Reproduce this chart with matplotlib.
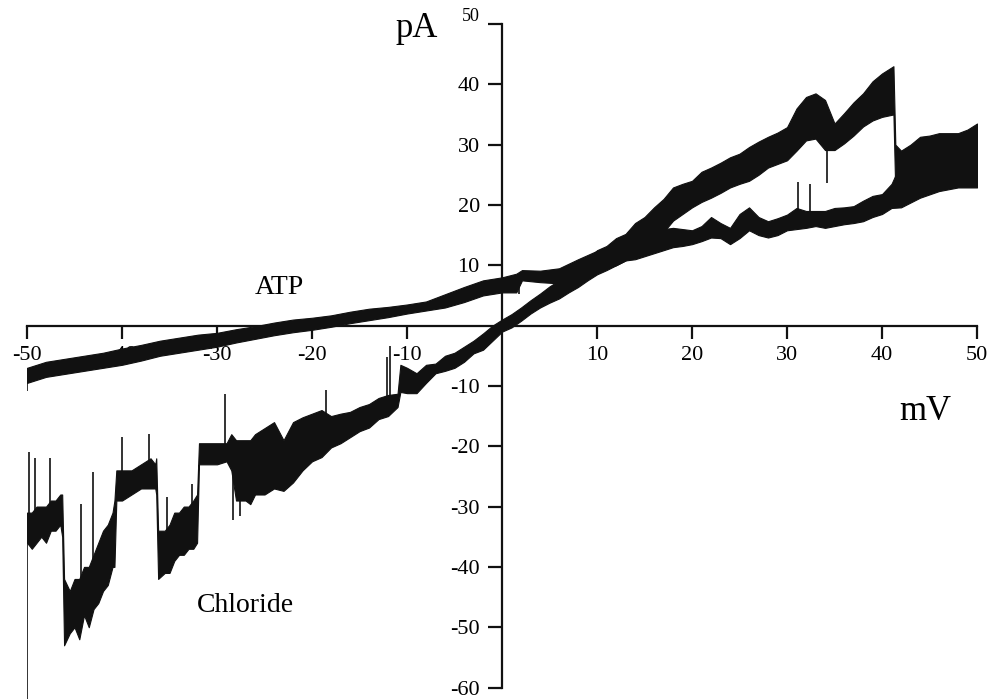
import matplotlib
matplotlib.use("Agg")
import matplotlib.pyplot as plt
import matplotlib.transforms as mtransforms

plt.rcParams['font.family'] = ['Liberation Serif', 'DejaVu Serif']

# chloride trace, read as (mV, lower edge, upper edge) of the noisy band
cl_mv = [-50, -49.5, -49, -48.5, -48, -47.5, -47, -46.5, -46.3, -46.1, -45.5, -45, -44.5, -44,
         -43.5, -43, -42.5, -42, -41.5, -41, -40.8, -40.6, -40, -39, -38, -37, -36.5, -36.4,
         -36.2, -35.5, -35, -34.5, -34, -33.5, -33, -32.5, -32.1, -31.9, -31, -30, -29, -28.5,
         -28, -27, -26.5, -26, -25, -24, -23, -22, -21, -20, -19, -18, -17, -16, -15, -14, -13,
         -12, -11, -10.7, -10, -9, -8, -7, -6, -5, -4, -3, -2, -1, 0, 1, 2, 3, 4, 5, 6, 7, 8, 9,
         10, 11, 12, 13, 14, 15, 16, 17, 18, 19, 20, 21, 22, 23, 24, 25, 26, 27, 28, 29, 30, 31,
         32, 33, 34, 35, 36, 37, 38, 39, 40, 41.2, 41.4, 42, 43, 44, 45, 46, 47, 48, 49, 50]
cl_lo = [-36, -37, -36, -35, -36, -34, -34, -33, -35, -53, -51, -50, -52, -48,
         -50, -47, -46, -44, -43, -40, -40, -29, -29, -28, -27, -27, -27, -28,
         -42, -41, -41, -39, -38, -38, -37, -37, -36, -23, -23, -23, -22.5, -24,
         -29, -29, -29.6, -28, -28, -27, -27.4, -26, -24, -22.5, -21.8, -20.2, -19.5, -18.5, -17.5, -16.9, -15.5,
         -15, -13.5, -11, -11.2, -11.2, -9.5, -7.9, -7.5, -7, -6, -4.6, -4, -2.5, -1, -0.3, 0.8, 2, 3, 3.8, 4.5, 5.5, 6.4, 7.5,
         8.5, 9.2, 10, 10.8, 11.8, 13, 14.1, 15.5, 17.4, 18.5, 19.6, 20.5, 21.2, 22, 22.9, 23.5, 24, 25, 26.2, 26.8, 27.4, 29,
         30.7, 31, 29.1, 29.1, 30.2, 31.5, 33, 34, 34.6, 35, 22, 22, 22.5, 23, 23.5, 23.5, 24, 24, 24.5, 25]
cl_hi = [-31, -31, -30, -30, -30, -29, -29, -28, -28, -42, -44, -42, -42, -40,
         -40, -38, -36, -34, -33, -31, -29, -24, -24, -24, -23, -22, -23, -22,
         -34, -34, -33, -31, -31, -30, -30, -29, -28, -19.5, -19.5, -19.5, -19.5, -18,
         -19, -19, -19, -18, -17, -16, -19, -16, -15.2, -14.6, -14, -15, -14.6, -14.3, -13.5, -13, -12,
         -11.5, -11.3, -6.5, -7, -7.9, -6.5, -6.3, -5, -4.5, -3.5, -2.5, -1.3, 0, 1, 1.9, 3, 4.2, 5.3, 6.5, 7.5, 8.6, 9.7, 11,
         12.5, 13.2, 14.5, 15.2, 17, 18, 19.6, 21, 22.9, 23.5, 24, 25.5, 26.2, 27, 27.9, 28.5, 29.6, 30.5, 31.3, 32, 32.9, 36,
         37.9, 38.5, 37.4, 33.5, 35.2, 37, 38.5, 40.5, 41.8, 43, 30, 29, 30, 31.3, 31.5, 31.9, 31.9, 31.9, 32.5, 33.5]

# ATP trace
atp_mv = [-50, -49, -48, -46, -44, -42, -40, -38, -36, -34, -32, -30, -28, -26, -24, -22, -20,
          -18, -16, -14, -12, -10, -8, -6, -4, -2, 0, 1.5, 2.1, 4, 6, 8, 10, 11, 12, 13, 14, 15,
          16, 17, 18, 19, 20, 21, 22, 23, 24, 25, 26, 27, 28, 29, 30, 31, 32, 33, 34, 35, 36, 37,
          38, 39, 40, 41, 42, 44, 46, 48, 50]
atp_lo = [-9.5, -9, -8.5, -8, -7.5, -7, -6.5, -5.8, -5, -4.5, -4, -3.5, -2.8, -2.2, -1.6, -1.1, -0.7,
          -0.2, 0.4, 0.9, 1.4, 2, 2.5, 3, 3.9, 5, 5.5, 5.5, 7.5, 7.2, 7, 8.5, 9.1, 9.5, 10, 10.8, 11, 11.5,
          12, 12.5, 13, 13.2, 13.5, 14, 14.6, 14.5, 13.5, 14.5, 15.8, 15, 14.6, 15, 15.8, 16, 16.2, 16.5, 16.2, 16.5, 16.8, 17,
          17.3, 18, 18.5, 19.5, 19.6, 21.2, 22.3, 22.9, 22.9]
atp_hi = [-7, -6.5, -6, -5.5, -5, -4.5, -3.8, -3.2, -2.5, -2, -1.5, -1.2, -0.6, -0.1, 0.5, 1, 1.3,
          1.7, 2.3, 2.8, 3.1, 3.5, 4, 5.2, 6.4, 7.5, 8, 8.6, 9.2, 9.1, 9.5, 11, 12.4, 12.8, 13.5, 14.5, 15, 15.2,
          15.5, 16, 16.2, 16, 15.8, 16.5, 18, 17, 16.2, 18.5, 19.6, 18, 17.3, 17.8, 18.4, 19.5, 19, 19, 19, 19.5, 19.6, 19.8,
          20.7, 21.5, 21.8, 23.5, 27, 28, 29, 29, 30]

# single spikes sticking out of the bands
cl_spike_mv = [-50, -49.8, -49.2, -47.6, -44.3, -43.1, -40, -37.2, -35.3, -32.6, -29.2, -28.3,
               -27.6, -18.5, -12.1, -11.8, 34.2]
cl_spike_lo = [-62, -36, -35, -33, -50, -46, -27, -26, -40, -36, -21, -32.3,
               -31.5, -19, -13, -12, 23.7]
cl_spike_hi = [-33, -21, -22, -22, -29.6, -24.2, -18.5, -17.9, -28.4, -26.2, -11.3, -22,
               -21, -10.7, -5.2, -3.3, 30]
atp_spike_mv = [-50, 1.8, 31.2, 32.4]
atp_spike_lo = [-10.8, 5.3, 17, 17]
atp_spike_hi = [-7.5, 7, 23.8, 23.5]

xticks = [-50, -40, -30, -20, -10, 10, 20, 30, 40, 50]
yticks = [-60, -50, -40, -30, -20, -10, 10, 20, 30, 40, 50]

ink = '#111111'

fig = plt.figure(figsize=(9.9, 6.99), dpi=100)
ax = fig.add_axes([0.0273, 0.0, 0.9596, 0.9657])
ax.set_xlim(-50, 50)
ax.set_ylim(-61.9, 50)

ax.fill_between(cl_mv, cl_lo, cl_hi, color=ink, lw=0.8, zorder=3)
ax.fill_between(atp_mv, atp_lo, atp_hi, color=ink, lw=0.8, zorder=3)
ax.vlines(cl_spike_mv, cl_spike_lo, cl_spike_hi, color=ink, lw=1.2, zorder=3)
ax.vlines(atp_spike_mv, atp_spike_lo, atp_spike_hi, color=ink, lw=1.2, zorder=3)

for s in ['top', 'right']:
    ax.spines[s].set_visible(False)
ax.spines['left'].set_position(('data', 0))
ax.spines['bottom'].set_position(('data', 0))
ax.spines['left'].set_bounds(-60, 50)
ax.spines['bottom'].set_bounds(-50, 50)
for s in ['left', 'bottom']:
    ax.spines[s].set_linewidth(1.6)
    ax.spines[s].set_color(ink)

ax.set_xticks(xticks)
ax.set_xticklabels([str(t) for t in xticks])
ax.set_yticks(yticks)
ax.set_yticklabels([str(t) for t in yticks])
ax.tick_params(axis='x', direction='out', length=9.5, width=1.6, pad=5, labelsize=16, color=ink)
ax.tick_params(axis='y', direction='out', length=10, width=1.6, pad=6, labelsize=16, color=ink)

# the top label sits a bit higher and smaller
top = ax.get_yticklabels()[-1]
top.set_fontsize(13)
top.set_transform(top.get_transform() + mtransforms.ScaledTranslation(0, 9 / 100, fig.dpi_scale_trans))

ax.text(-9, 47.8, 'pA', fontsize=25, ha='center', va='baseline')
ax.text(44.5, -15.7, 'mV', fontsize=25, ha='center', va='baseline')
ax.text(-23.4, 6.3, 'ATP', fontsize=20, ha='center', va='center')
ax.text(-27, -46.4, 'Chloride', fontsize=20, ha='center', va='center')

fig.savefig('out.png', dpi=100)
